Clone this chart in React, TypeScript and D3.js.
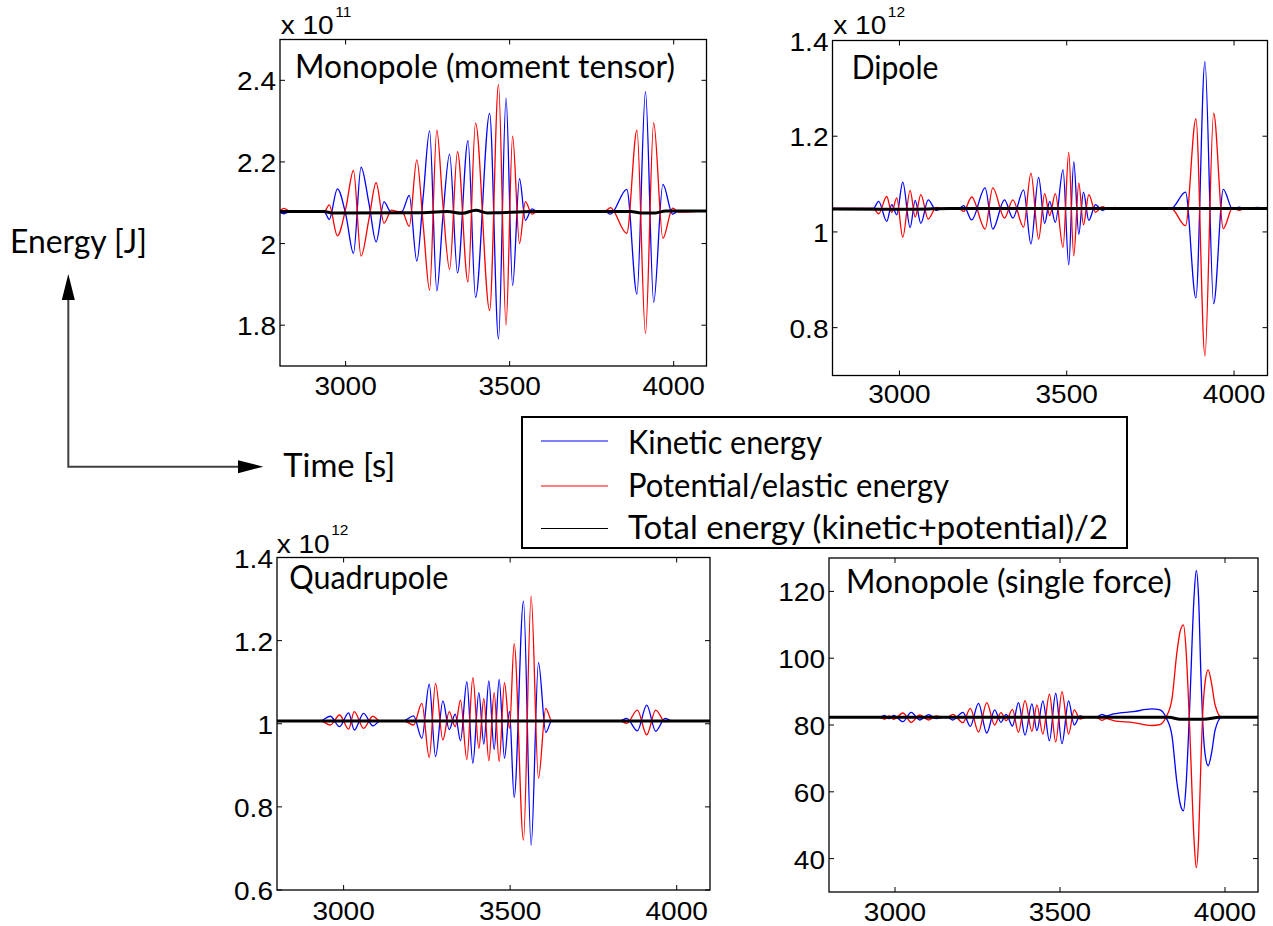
import React from "react";
import * as d3 from "d3";

type Pt = [number, number];

// ---------- shared axis data ----------
const timeDomain: [number, number] = [2800, 4100];
const timeTicks = [3000, 3500, 4000];

// ---------- Monopole (moment tensor), x 10^11 J ----------
const mtYTicks = [1.8, 2, 2.2, 2.4];
const mtKinetic: Pt[] = [
  [2800, 2.076], [2812, 2.073], [2830, 2.078], [2935, 2.078],
  [2950, 2.059], [2975, 2.134], [3001, 2.069], [3024, 1.976], [3047, 2.187], [3071, 2.099],
  [3093, 2.004], [3117, 2.102], [3140, 2.075], [3160, 2.078],
  [3172, 2.079], [3194, 2.118], [3217, 1.957], [3237, 2.120], [3256, 2.276], [3278, 1.884],
  [3296, 2.060], [3317, 2.219], [3341, 1.928], [3373, 2.252], [3396, 1.868], [3439, 2.319],
  [3466, 1.766], [3489, 2.356], [3509, 1.897], [3530, 2.159], [3548, 2.057], [3568, 2.085],
  [3585, 2.078], [3790, 2.079],
  [3807, 2.072], [3857, 2.133], [3888, 1.876], [3914, 2.372], [3939, 1.856], [3967, 2.145],
  [3997, 2.072], [4015, 2.080], [4100, 2.079],
];
const mtPotential: Pt[] = [
  [2800, 2.081], [2812, 2.086], [2830, 2.079], [2935, 2.078],
  [2950, 2.095], [2975, 2.019], [3001, 2.088], [3024, 2.179], [3047, 1.969], [3071, 2.059],
  [3093, 2.149], [3117, 2.050], [3140, 2.082], [3160, 2.078],
  [3172, 2.079], [3194, 2.042], [3217, 2.205], [3237, 2.041], [3256, 1.886], [3278, 2.278],
  [3296, 2.100], [3317, 1.937], [3341, 2.225], [3373, 1.906], [3396, 2.295], [3439, 1.836],
  [3466, 2.390], [3489, 1.800], [3509, 2.263], [3530, 2.000], [3548, 2.103], [3568, 2.072],
  [3585, 2.079], [3790, 2.079],
  [3807, 2.088], [3857, 2.025], [3888, 2.278], [3914, 1.780], [3939, 2.296], [3967, 2.013],
  [3997, 2.087], [4015, 2.077], [4100, 2.080],
];
const mtTotal: Pt[] = [
  [2800, 2.0784], [2934, 2.0784], [2960, 2.0751], [3218, 2.0755], [3310, 2.0784], [3356, 2.0743],
  [3397, 2.0816], [3432, 2.0751], [3463, 2.0755], [3565, 2.0784], [3870, 2.0784], [3900, 2.0751],
  [3945, 2.0751], [3975, 2.0800], [4100, 2.0800],
];

// ---------- Dipole, x 10^12 J ----------
const dpYTicks = [0.8, 1, 1.2, 1.4];
const dpKinetic: Pt[] = [
  [2800, 1.049], [2922, 1.049], [2938, 1.064], [2962, 1.022], [2977, 1.057], [2992, 1.036],
  [3010, 1.104], [3032, 1.009], [3047, 1.066], [3064, 1.018], [3086, 1.067], [3110, 1.045],
  [3127, 1.049], [3178, 1.049], [3192, 1.055], [3216, 1.025], [3256, 1.092], [3279, 1.006],
  [3314, 1.067], [3339, 1.029], [3371, 1.088], [3393, 0.975], [3416, 1.114], [3434, 1.018],
  [3449, 1.064], [3466, 1.020], [3489, 1.130], [3506, 0.931], [3521, 1.147], [3536, 0.995],
  [3550, 1.083], [3566, 1.024], [3586, 1.057], [3606, 1.045], [3625, 1.050], [3645, 1.047],
  [3660, 1.049], [3812, 1.049], [3855, 1.083], [3886, 0.862], [3913, 1.356], [3939, 0.850],
  [3968, 1.089], [3996, 1.047], [4016, 1.052], [4030, 1.049], [4071, 1.051], [4085, 1.049],
  [4100, 1.049],
];
const dpPotential: Pt[] = [
  [2800, 1.049], [2922, 1.049], [2938, 1.038], [2962, 1.074], [2977, 1.041], [2992, 1.071],
  [3010, 0.989], [3032, 1.087], [3047, 1.031], [3064, 1.078], [3086, 1.027], [3110, 1.051],
  [3127, 1.049], [3178, 1.049], [3192, 1.043], [3216, 1.073], [3256, 1.006], [3279, 1.092],
  [3314, 1.029], [3339, 1.067], [3371, 1.010], [3393, 1.123], [3416, 0.985], [3434, 1.080],
  [3449, 1.034], [3466, 1.080], [3489, 0.968], [3506, 1.166], [3521, 0.950], [3536, 1.102],
  [3550, 1.015], [3566, 1.078], [3586, 1.041], [3606, 1.053], [3625, 1.048], [3645, 1.051],
  [3660, 1.049], [3812, 1.049], [3855, 1.013], [3886, 1.236], [3913, 0.741], [3939, 1.248],
  [3968, 1.007], [3996, 1.051], [4016, 1.045], [4030, 1.049], [4071, 1.047], [4085, 1.049],
  [4100, 1.049],
];
const dpTotal: Pt[] = [
  [2800, 1.048], [3050, 1.0475], [3150, 1.049], [4100, 1.049],
];

// ---------- Quadrupole, x 10^12 J ----------
const qdYTicks = [0.6, 0.8, 1, 1.2, 1.4];
const qdKinetic: Pt[] = [
  [2800, 1.007], [2930, 1.007], [2960, 1.018], [2988, 0.993], [3015, 1.026], [3032, 0.985],
  [3060, 1.025], [3088, 0.995], [3110, 1.007], [3180, 1.007], [3210, 1.019], [3235, 0.965],
  [3257, 1.095], [3276, 0.921], [3298, 1.055], [3317, 0.986], [3335, 1.023], [3351, 0.959],
  [3370, 1.101], [3388, 0.905], [3406, 1.075], [3421, 0.951], [3436, 1.103], [3452, 0.938],
  [3467, 1.107], [3483, 0.917], [3498, 1.030], [3512, 0.823], [3540, 1.295], [3563, 0.708],
  [3585, 1.147], [3607, 0.979], [3625, 1.007], [3830, 1.007], [3850, 1.013], [3882, 0.983],
  [3910, 1.045], [3937, 0.982], [3965, 1.013], [3985, 1.007], [4100, 1.007],
];
const qdPotential: Pt[] = [
  [2800, 1.007], [2930, 1.007], [2960, 0.997], [2988, 1.021], [3015, 0.987], [3032, 1.029],
  [3060, 0.989], [3088, 1.018], [3110, 1.006], [3180, 1.007], [3210, 0.997], [3235, 1.049],
  [3257, 0.919], [3276, 1.097], [3298, 0.961], [3317, 1.029], [3335, 0.993], [3351, 1.057],
  [3370, 0.914], [3388, 1.111], [3406, 0.941], [3421, 1.061], [3436, 0.911], [3452, 1.075],
  [3467, 0.909], [3483, 1.099], [3498, 0.989], [3512, 1.193], [3540, 0.720], [3563, 1.307],
  [3585, 0.869], [3607, 1.037], [3625, 1.007], [3830, 1.007], [3850, 1.001], [3882, 1.033],
  [3910, 0.973], [3937, 1.033], [3965, 1.005], [3985, 1.007], [4100, 1.007],
];
const qdTotal: Pt[] = [
  [2800, 1.0068], [4100, 1.0068],
];

// ---------- Monopole (single force), J ----------
const sfYTicks = [40, 60, 80, 100, 120];
const sfKinetic: Pt[] = [
  [2800, 82.3], [2955, 82.3], [2968, 82.9], [2982, 81.9], [2996, 82.9], [3024, 81.0],
  [3049, 83.8], [3075, 81.5], [3102, 83.1], [3125, 81.9], [3145, 82.3], [3160, 82.3],
  [3175, 81.5], [3206, 83.8], [3228, 79.6], [3253, 86.5], [3278, 77.6], [3302, 84.5],
  [3321, 80.8], [3337, 83.2], [3356, 79.7], [3374, 86.7], [3394, 77.0], [3415, 86.3],
  [3430, 78.3], [3448, 87.2], [3468, 75.3], [3487, 89.5], [3506, 74.4], [3526, 87.2],
  [3543, 80.0], [3561, 82.7], [3576, 82.3], [3610, 82.3], [3627, 83.2], [3640, 82.7],
  [3662, 83.3], [3722, 84.0], [3778, 84.8], [3803, 84.5], [3821, 82.3], [3839, 77.0],
  [3854, 63.0], [3864, 56.5], [3874, 54.3], [3882, 62.0], [3889, 76.0], [3894, 88.0],
  [3906, 118.0], [3913, 126.3], [3920, 118.0], [3927, 95.0], [3932, 82.0], [3940, 71.0],
  [3949, 67.8], [3960, 72.0], [3970, 78.5], [3990, 82.3], [4100, 82.3],
];
const sfPotential: Pt[] = [
  [2800, 82.3], [2955, 82.3], [2968, 81.7], [2982, 82.7], [2996, 81.7], [3024, 83.6],
  [3049, 80.8], [3075, 83.0], [3102, 81.5], [3125, 82.7], [3145, 82.3], [3160, 82.3],
  [3175, 83.2], [3206, 80.7], [3228, 85.0], [3253, 77.9], [3278, 86.7], [3302, 80.0],
  [3321, 83.7], [3337, 81.3], [3356, 84.7], [3374, 77.8], [3394, 87.3], [3415, 78.1],
  [3430, 86.0], [3448, 77.3], [3468, 89.2], [3487, 74.9], [3506, 90.0], [3526, 77.3],
  [3543, 84.5], [3561, 81.8], [3576, 82.3], [3610, 82.3], [3627, 81.4], [3640, 81.9],
  [3662, 81.3], [3722, 80.7], [3778, 79.85], [3803, 80.1], [3821, 82.3], [3839, 87.6],
  [3854, 101.5], [3864, 108.0], [3874, 110.0], [3882, 102.5], [3889, 88.5], [3894, 76.5],
  [3906, 46.0], [3913, 37.2], [3920, 46.0], [3927, 69.0], [3932, 82.5], [3940, 93.0],
  [3949, 96.5], [3960, 92.0], [3970, 86.0], [3990, 82.3], [4100, 82.3],
];
const sfTotal: Pt[] = [
  [2800, 82.3], [3830, 82.3], [3864, 81.7], [3935, 81.7], [3985, 82.3], [4100, 82.3],
];

// ---------- legend ----------
const legendLabels = [
  "Kinetic energy",
  "Potential/elastic energy",
  "Total energy (kinetic+potential)/2",
];
const seriesColors = ["#0000ff", "#ff0000", "#000000"];

const TICK_FONT = "'Liberation Sans', Arial, sans-serif";
const TICK_SIZE = 25.5;
const TEXT_FONT = "Lato, 'Open Sans', sans-serif";

// approximate Helvetica/Arial advance widths, stretched a little like the reference
const tickTextWidth = (s: string, size: number) => {
  let w = 0;
  for (const c of s) w += c === "." ? 0.278 : c === " " ? 0.278 : c === "x" ? 0.5 : 0.556;
  return w * size * 1.1;
};

const panels = [
  {
    id: "mt", title: "Monopole (moment tensor)", kinetic: mtKinetic, potential: mtPotential, total: mtTotal,
    yDomain: [1.7, 2.5], yTicks: mtYTicks, exponent: "11",
    l: 280, t: 39.5, r: 706.5, b: 366, xLabDy: 29.3,
    titleX: 295, titleY: 78.3, titleW: 380, expX: 280.7, expY: 34,
  },
  {
    id: "dp", title: "Dipole", kinetic: dpKinetic, potential: dpPotential, total: dpTotal,
    yDomain: [0.7, 1.4], yTicks: dpYTicks, exponent: "12",
    l: 832.5, t: 40.5, r: 1267.5, b: 375.5, xLabDy: 27,
    titleX: 851.7, titleY: 79.3, titleW: 86.7, expX: 833.3, expY: 34.3,
  },
  {
    id: "qd", title: "Quadrupole", kinetic: qdKinetic, potential: qdPotential, total: qdTotal,
    yDomain: [0.6, 1.4], yTicks: qdYTicks, exponent: "12",
    l: 277, t: 557.5, r: 710, b: 890, xLabDy: 30,
    titleX: 289.3, titleY: 589.3, titleW: 159, expX: 276.7, expY: 552.7,
  },
  {
    id: "sf", title: "Monopole (single force)", kinetic: sfKinetic, potential: sfPotential, total: sfTotal,
    yDomain: [30, 130], yTicks: sfYTicks, exponent: "",
    l: 829, t: 558, r: 1258, b: 892, xLabDy: 29.4,
    titleX: 846, titleY: 593.3, titleW: 325.7, expX: 0, expY: 0,
  },
];

const fmt = d3.format("~g");

function TickText({ x, y, s, anchor }: { x: number; y: number; s: string; anchor: "start" | "middle" | "end" }) {
  const w = tickTextWidth(s, TICK_SIZE);
  const x0 = anchor === "middle" ? x - w / 2 : anchor === "end" ? x - w : x;
  return (
    <text x={x0} y={y} fontFamily={TICK_FONT} fontSize={TICK_SIZE} fill="#000"
      textLength={w} lengthAdjust="spacingAndGlyphs">
      {s}
    </text>
  );
}

function Panel({ p }: { p: any }) {
  const x = d3.scaleLinear().domain(timeDomain).range([p.l, p.r]);
  const y = d3.scaleLinear().domain(p.yDomain).range([p.b, p.t]);
  const line = d3
    .line<Pt>()
    .x((d) => x(d[0]))
    .y((d) => y(d[1]))
    .curve(d3.curveMonotoneX);
  const tl = 5;
  return (
    <g>
      <defs>
        <clipPath id={`clip-${p.id}`}>
          <rect x={p.l} y={p.t} width={p.r - p.l} height={p.b - p.t} />
        </clipPath>
      </defs>
      <rect x={p.l} y={p.t} width={p.r - p.l} height={p.b - p.t} fill="#fff" />
      <g clipPath={`url(#clip-${p.id})`}>
        <path d={line(p.kinetic) || ""} fill="none" stroke={seriesColors[0]} strokeWidth={1.3} />
        <path d={line(p.potential) || ""} fill="none" stroke={seriesColors[1]} strokeWidth={1.3} />
        <path d={line(p.total) || ""} fill="none" stroke={seriesColors[2]} strokeWidth={3} />
      </g>
      {timeTicks.map((v) => (
        <g key={`xt${v}`}>
          <line x1={x(v)} x2={x(v)} y1={p.b} y2={p.b - tl} stroke="#000" strokeWidth={1} />
          <line x1={x(v)} x2={x(v)} y1={p.t} y2={p.t + tl} stroke="#000" strokeWidth={1} />
          <TickText x={x(v)} y={p.b + p.xLabDy} s={fmt(v)} anchor="middle" />
        </g>
      ))}
      {p.yTicks.map((v: number) => (
        <g key={`yt${v}`}>
          <line x1={p.l} x2={p.l + tl} y1={y(v)} y2={y(v)} stroke="#000" strokeWidth={1} />
          <line x1={p.r} x2={p.r - tl} y1={y(v)} y2={y(v)} stroke="#000" strokeWidth={1} />
          <TickText x={p.l - 4} y={y(v) + 10} s={fmt(v)} anchor="end" />
        </g>
      ))}
      <rect x={p.l} y={p.t} width={p.r - p.l} height={p.b - p.t} fill="none" stroke="#000" strokeWidth={1.3} />
      <text x={p.titleX} y={p.titleY} fontFamily={TEXT_FONT} fontSize={32} fill="#000"
        textLength={p.titleW} lengthAdjust="spacingAndGlyphs">
        {p.title}
      </text>
      {p.exponent && (
        <g>
          <TickText x={p.expX} y={p.expY} s="x 10" anchor="start" />
          <text x={p.expX + 54.5} y={p.expY - 17.5} fontFamily={TICK_FONT} fontSize={15.5} fill="#000">
            {p.exponent}
          </text>
        </g>
      )}
    </g>
  );
}

export default function App() {
  const legendRowsY = [441, 486, 528.5];
  const legendTextY = [454, 496.5, 538.5];
  const legendTextW = [194, 321, 480];
  return (
    <div style={{ position: "absolute", left: 0, top: 0 }}>
      <svg width={1273} height={926} viewBox="0 0 1273 926" style={{ display: "block", background: "#fff" }}>
        <rect x={0} y={0} width={1273} height={926} fill="#fff" />
        {panels.map((p) => (
          <Panel key={p.id} p={p} />
        ))}
        {/* legend */}
        <rect x={522} y={417} width={605} height={131} fill="#fff" stroke="#000" strokeWidth={2} />
        {legendLabels.map((lab, i) => (
          <g key={lab}>
            <line x1={541} x2={608} y1={legendRowsY[i]} y2={legendRowsY[i]} stroke={seriesColors[i]} strokeWidth={1.2} />
            <text x={628} y={legendTextY[i]} fontFamily={TEXT_FONT} fontSize={32} fill="#000"
              textLength={legendTextW[i]} lengthAdjust="spacingAndGlyphs">
              {lab}
            </text>
          </g>
        ))}
        {/* axis-meaning annotation */}
        <text x={10} y={252.7} fontFamily={TEXT_FONT} fontSize={32} fill="#000" textLength={137} lengthAdjust="spacingAndGlyphs">
          Energy [J]
        </text>
        <text x={283.3} y={476.7} fontFamily={TEXT_FONT} fontSize={32} fill="#000" textLength={112} lengthAdjust="spacingAndGlyphs">
          Time [s]
        </text>
        <g stroke="#404040" strokeWidth={2} fill="none">
          <polyline points="68.3,299 68.3,466.7 239,466.7" />
        </g>
        <polygon points="68.3,274 61.8,300 74.8,300" fill="#000" />
        <polygon points="263.3,466.7 238,460.2 238,473.2" fill="#000" />
      </svg>
    </div>
  );
}
